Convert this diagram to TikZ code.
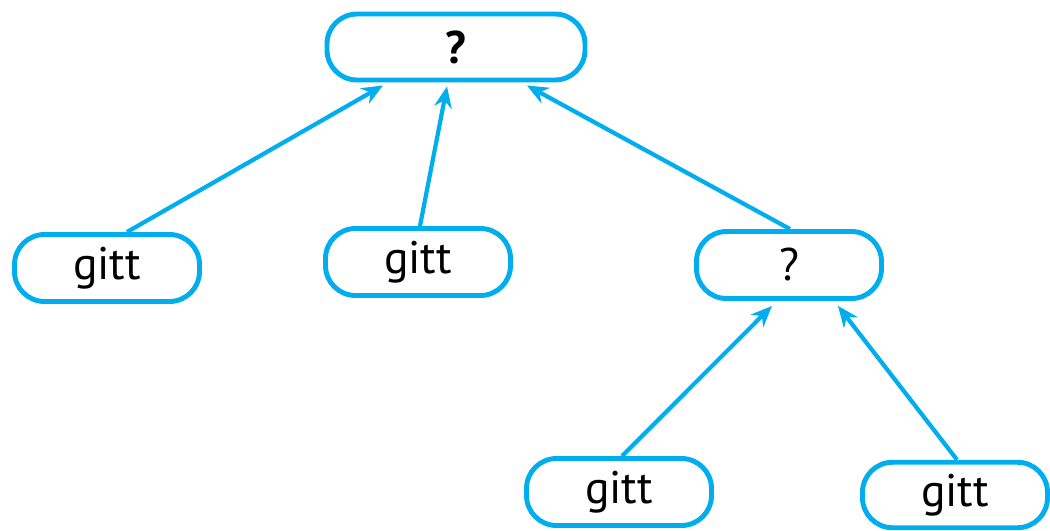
\documentclass[tikz,border=0pt]{standalone}
\usepackage{fontspec}
\setmainfont{PT Sans}
\usepackage{xcolor}
\usepackage{tikz}
\usetikzlibrary{arrows.meta}
\usetikzlibrary{positioning}

\definecolor{gitblue}{RGB}{0,174,239}

\begin{document}
\begin{tikzpicture}
    \tikzstyle{tre-node}=[rectangle, draw=gitblue, rounded corners=0.3cm, minimum width=1.85cm, minimum height=0.67cm, line width=1.4pt, fill=white, font=\fontsize{13}{15}\selectfont]
    \tikzstyle{pil}=[-{Stealth[length=6pt, width=5pt]}, line width=1.2pt, color=gitblue]

    \useasboundingbox (0,0) rectangle (10.5,5.3);

    \node[tre-node, minimum width=2.58cm, minimum height=0.66cm, font=\fontsize{13}{15}\selectfont\bfseries] (rot) at (4.56,4.83) {?};

    \node[tre-node] (gitt-a) at (1.07,2.62) {gitt};
    \node[tre-node] (gitt-b) at (4.18,2.68) {gitt};
    \node[tre-node] (ukjent) at (7.89,2.65) {?};

    \node[tre-node] (gitt-c) at (6.19,0.38) {gitt};
    \node[tre-node, minimum height=0.65cm] (gitt-d) at (9.55,0.35) {gitt};

    \draw[pil] ([xshift=0.2cm]gitt-a.north) -- ([xshift=-0.73cm, yshift=-0.03cm]rot.south);
    \draw[pil] ([xshift=0.02cm]gitt-b.north) -- ([xshift=-0.09cm, yshift=-0.04cm]rot.south);
    \draw[pil] ([xshift=0.01cm]ukjent.north) -- ([xshift=0.71cm, yshift=-0.03cm]rot.south);

    \draw[pil] ([xshift=0.03cm]gitt-c.north) -- ([xshift=-0.17cm, yshift=-0.05cm]ukjent.south);
    \draw[pil] ([xshift=0.02cm]gitt-d.north) -- ([xshift=0.49cm, yshift=-0.05cm]ukjent.south);
\end{tikzpicture}
\end{document}
